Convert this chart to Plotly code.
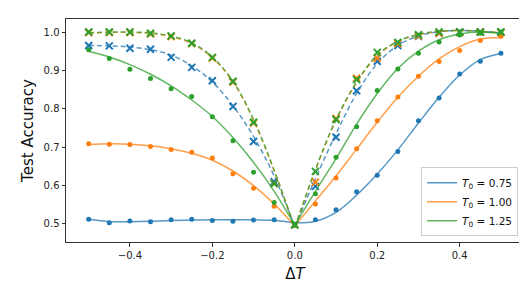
import plotly.graph_objects as go

x = [-0.5, -0.45, -0.4, -0.35, -0.3, -0.25, -0.2, -0.15, -0.1, -0.05, 0.0,
     0.05, 0.1, 0.15, 0.2, 0.25, 0.3, 0.35, 0.4, 0.45, 0.5]

# measured dots
dots_075 = [0.512, 0.503, 0.508, 0.506, 0.511, 0.512, 0.509, 0.507, 0.510, 0.511, 0.500,
            0.511, 0.537, 0.584, 0.627, 0.689, 0.769, 0.828, 0.891, 0.924, 0.945]
dots_100 = [0.709, 0.708, 0.707, 0.702, 0.694, 0.687, 0.672, 0.631, 0.593, 0.546, 0.498,
            0.552, 0.620, 0.696, 0.769, 0.831, 0.885, 0.923, 0.952, 0.978, 0.989]
dots_125 = [0.954, 0.931, 0.903, 0.879, 0.852, 0.832, 0.779, 0.717, 0.635, 0.556, 0.498,
            0.579, 0.674, 0.753, 0.848, 0.904, 0.945, 0.974, 0.992, 0.997, 1.000]

# crosses
cross_075 = [0.965, 0.964, 0.958, 0.955, 0.934, 0.908, 0.873, 0.806, 0.715, 0.610, 0.498,
             0.598, 0.726, 0.847, 0.924, 0.965, 0.989, 0.997, 1.000, 1.000, 1.000]
cross_100 = [0.999, 0.999, 0.999, 0.995, 0.988, 0.970, 0.932, 0.870, 0.763, 0.605, 0.498,
             0.609, 0.775, 0.880, 0.932, 0.970, 0.990, 0.997, 0.999, 1.000, 0.999]
cross_125 = [1.000, 1.000, 1.000, 0.997, 0.990, 0.971, 0.934, 0.872, 0.765, 0.605, 0.498,
             0.637, 0.772, 0.876, 0.947, 0.973, 0.993, 1.000, 1.000, 1.000, 1.000]

# fitted curves (solid)
fit_075 = [0.512, 0.506, 0.506, 0.507, 0.509, 0.510, 0.511, 0.511, 0.511, 0.509, 0.503,
           0.507, 0.530, 0.575, 0.630, 0.693, 0.763, 0.830, 0.888, 0.928, 0.944]
fit_100 = [0.707, 0.709, 0.708, 0.704, 0.696, 0.684, 0.666, 0.638, 0.600, 0.552, 0.495,
           0.560, 0.625, 0.695, 0.765, 0.830, 0.885, 0.930, 0.962, 0.982, 0.986]
fit_125 = [0.950, 0.935, 0.915, 0.890, 0.860, 0.823, 0.780, 0.725, 0.660, 0.585, 0.497,
           0.585, 0.670, 0.760, 0.840, 0.905, 0.950, 0.980, 0.995, 1.000, 0.996]

# fitted curves (dashed)
dfit_075 = [0.965, 0.964, 0.961, 0.954, 0.940, 0.912, 0.870, 0.808, 0.728, 0.625, 0.492,
            0.618, 0.735, 0.840, 0.918, 0.965, 0.990, 1.001, 1.004, 1.002, 0.998]
dfit_100 = [0.997, 0.999, 0.999, 0.996, 0.988, 0.970, 0.933, 0.870, 0.770, 0.638, 0.490,
            0.640, 0.770, 0.868, 0.938, 0.975, 0.993, 1.001, 1.004, 1.002, 0.998]
dfit_125 = [0.998, 1.000, 1.000, 0.998, 0.990, 0.972, 0.935, 0.872, 0.772, 0.640, 0.490,
            0.642, 0.772, 0.870, 0.940, 0.976, 0.994, 1.002, 1.004, 1.002, 0.998]

labels = ["<i>T</i><sub>0</sub> = 0.75", "<i>T</i><sub>0</sub> = 1.00", "<i>T</i><sub>0</sub> = 1.25"]
colors = ["#1f77b4", "#ff7f0e", "#2ca02c"]
dots = [dots_075, dots_100, dots_125]
crosses = [cross_075, cross_100, cross_125]
fits = [fit_075, fit_100, fit_125]
dfits = [dfit_075, dfit_100, dfit_125]

fig = go.Figure()
neg = slice(0, 11)
pos = slice(10, 21)
for i in range(3):
    c = colors[i]
    g = "g%d" % i
    for k, part in enumerate([neg, pos]):
        fig.add_trace(go.Scatter(x=x[part], y=fits[i][part], mode="lines",
                                 line=dict(color=c, width=1.5, shape="spline"), opacity=0.75,
                                 name=labels[i], legendgroup=g, showlegend=(k == 0)))
    fig.add_trace(go.Scatter(x=x, y=dots[i], mode="markers",
                             marker=dict(color=c, size=5), showlegend=False))
    for part in [neg, pos]:
        fig.add_trace(go.Scatter(x=x[part], y=dfits[i][part], mode="lines",
                                 line=dict(color=c, width=1.5, dash="5px,3px", shape="spline"),
                                 opacity=0.75, showlegend=False))
    fig.add_trace(go.Scatter(x=x, y=crosses[i], mode="markers",
                             marker=dict(symbol="x-thin", size=7, line=dict(color=c, width=2)),
                             showlegend=False))

axis_common = dict(showline=True, linecolor="#333333", linewidth=1, mirror=True,
                   ticks="outside", ticklen=3.5, tickcolor="#333333", showgrid=False,
                   zeroline=False, tickfont=dict(family="DejaVu Sans", size=10, color="#222"))
fig.update_xaxes(range=[-0.555, 0.556], tickvals=[-0.4, -0.2, 0.0, 0.2, 0.4],
                 ticktext=["−0.4", "−0.2", "0.0", "0.2", "0.4"],
                 title=dict(text="Δ<i>T</i>", font=dict(family="DejaVu Sans", size=15, color="#111"), standoff=8),
                 **axis_common)
fig.update_yaxes(range=[0.453, 1.034], tickvals=[0.5, 0.6, 0.7, 0.8, 0.9, 1.0],
                 ticktext=["0.5", "0.6", "0.7", "0.8", "0.9", "1.0"],
                 title=dict(text="Test Accuracy", font=dict(family="DejaVu Sans", size=15, color="#111"), standoff=6),
                 **axis_common)
fig.update_layout(width=527, height=286, margin=dict(l=58, r=11, t=11, b=52),
                  plot_bgcolor="white", paper_bgcolor="white",
                  legend=dict(x=0.987, y=0.026, xanchor="right", yanchor="bottom",
                              bordercolor="#cccccc", borderwidth=1, bgcolor="rgba(255,255,255,0.8)",
                              font=dict(family="DejaVu Sans", size=10.5, color="#111"),
                              itemwidth=30, tracegroupgap=0))
fig.write_html("out.html")
